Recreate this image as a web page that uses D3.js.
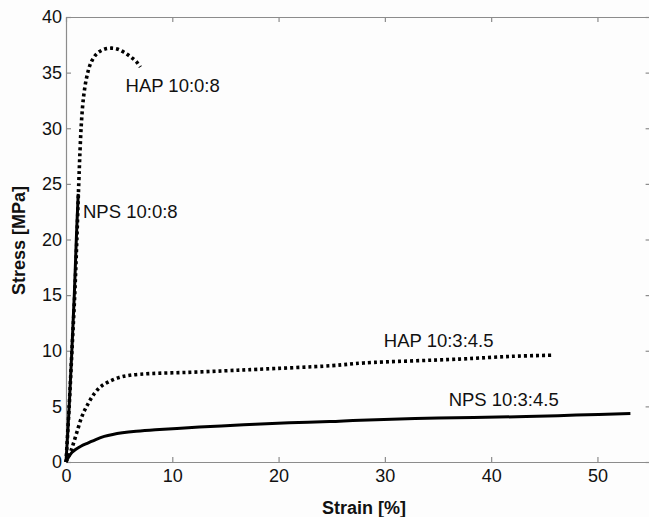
<!DOCTYPE html>
<html>
<head>
<meta charset="utf-8">
<script src="https://cdn.jsdelivr.net/npm/d3@7/dist/d3.min.js"></script>
<style>
  html, body { margin: 0; padding: 0; background: #ffffff; }
  svg { display: block; }
</style>
</head>
<body>
<svg id="chart" width="649" height="517"></svg>
<script>
// ---- Data (strain %, stress MPa) ----
const seriesNames = ["NPS 10:0:8", "HAP 10:0:8", "HAP 10:3:4.5", "NPS 10:3:4.5"];
const nps1008 = [[0,0],[0.3,5],[0.55,10],[0.78,15],[0.97,20],[1.15,24.1]];
const hap1008 = [[0,0],[0.3,5],[0.56,10],[0.82,15],[1.02,20],[1.2,25],[1.32,28],[1.45,30.5],[1.65,32.8],[1.95,34.6],[2.35,35.9],[2.9,36.7],[3.6,37.1],[4.3,37.2],[4.9,37.1],[5.5,36.8],[6.1,36.4],[6.6,36.0],[7.0,35.5]];
const hap1034 = [[0,0],[0.5,1.1],[1,2.6],[1.5,4.1],[2,5.1],[2.7,6.2],[3.3,6.8],[4,7.2],[5,7.6],[6,7.8],[8,7.95],[11.5,8.06],[15,8.2],[18,8.33],[25,8.66],[28,8.9],[37,9.25],[42,9.5],[45.7,9.6]];
const nps1034 = [[0,0],[0.25,0.45],[0.55,0.85],[0.9,1.12],[1.4,1.42],[2.1,1.72],[2.8,2.02],[3.6,2.3],[4.4,2.48],[5.3,2.62],[6.6,2.76],[8.4,2.9],[11.5,3.08],[14.6,3.24],[17.8,3.4],[21,3.52],[24.8,3.63],[27.7,3.76],[35,3.95],[43.3,4.08],[48,4.22],[53.1,4.36]];
const xTicks = [0, 10, 20, 30, 40, 50];
const yTicks = [0, 5, 10, 15, 20, 25, 30, 35, 40];
const xDomain = [0, 55];
const yDomain = [0, 40];
const xTitle = "Strain [%]";
const yTitle = "Stress [MPa]";

(function () {
// ---- Layout ----
const svg = d3.select("#chart");
const mLeft = 66, mTop = 17, mRight = 650.6, mBottom = 462;
const x = d3.scaleLinear().domain(xDomain).range([mLeft, mRight]);
const y = d3.scaleLinear().domain(yDomain).range([mBottom, mTop]);
const axisColor = "#8c8c8c";
const font = "'Liberation Sans', Arial, Helvetica, sans-serif";

svg.append("rect").attr("width", 649).attr("height", 517).attr("fill", "#fdfdfd");

function styleAxis(g, showLabels) {
  g.select(".domain").attr("stroke", axisColor).attr("stroke-width", 1.2);
  g.selectAll(".tick line").attr("stroke", axisColor).attr("stroke-width", 1.2);
  g.selectAll(".tick text").attr("fill", "#111").style("font-family", font).style("font-size", "18px");
  if (!showLabels) g.selectAll(".tick text").remove();
}

const gx = svg.append("g").attr("transform", `translate(0,${mBottom})`)
  .call(d3.axisBottom(x).tickValues(xTicks).tickSizeInner(-5).tickSizeOuter(0).tickPadding(7).tickFormat(d3.format("d")));
styleAxis(gx, true);
const gxt = svg.append("g").attr("transform", `translate(0,${mTop})`)
  .call(d3.axisTop(x).tickValues(xTicks).tickSizeInner(-5).tickSizeOuter(0));
styleAxis(gxt, false);
const gy = svg.append("g").attr("transform", `translate(${mLeft},0)`)
  .call(d3.axisLeft(y).tickValues(yTicks).tickSizeInner(-5).tickSizeOuter(0).tickPadding(4).tickFormat(d3.format("d")));
styleAxis(gy, true);
const gyr = svg.append("g").attr("transform", `translate(${mRight},0)`)
  .call(d3.axisRight(y).tickValues(yTicks).tickSizeInner(-5).tickSizeOuter(0));
styleAxis(gyr, false);

// ---- Curves ----
const line = d3.line().x(d => x(d[0])).y(d => y(d[1])).curve(d3.curveCatmullRom.alpha(0.5));
const plot = svg.append("g");
function drawSeries(data, dotted) {
  const p = plot.append("path").datum(data).attr("d", line)
    .attr("fill", "none").attr("stroke", "#000");
  if (dotted) {
    p.attr("stroke-width", 3.6).attr("stroke-dasharray", "3,3");
  } else {
    p.attr("stroke-width", 3).attr("stroke-linejoin", "round");
  }
}
drawSeries(hap1034, true);
drawSeries(nps1034, false);
drawSeries(hap1008, true);
drawSeries(nps1008, false);

// ---- Curve labels ----
const labels = [
  { text: seriesNames[1], sx: 5.6, sy: 33.3 },
  { text: seriesNames[0], sx: 1.6, sy: 21.9 },
  { text: seriesNames[2], sx: 29.9, sy: 10.35 },
  { text: seriesNames[3], sx: 36.0, sy: 5.0 }
];
svg.append("g").selectAll("text").data(labels).join("text")
  .attr("x", d => x(d.sx)).attr("y", d => y(d.sy))
  .attr("fill", "#111").style("font-family", font).style("font-size", "18.5px")
  .text(d => d.text);

// ---- Axis titles ----
svg.append("text").attr("x", 364).attr("y", 514).attr("text-anchor", "middle")
  .attr("fill", "#111").style("font-family", font).style("font-size", "18px").style("font-weight", "bold")
  .text(xTitle);
svg.append("text").attr("transform", `translate(25,${(mTop + mBottom) / 2 + 1}) rotate(-90)`)
  .attr("text-anchor", "middle")
  .attr("fill", "#111").style("font-family", font).style("font-size", "18px").style("font-weight", "bold")
  .text(yTitle);
})();
</script>
</body>
</html>
